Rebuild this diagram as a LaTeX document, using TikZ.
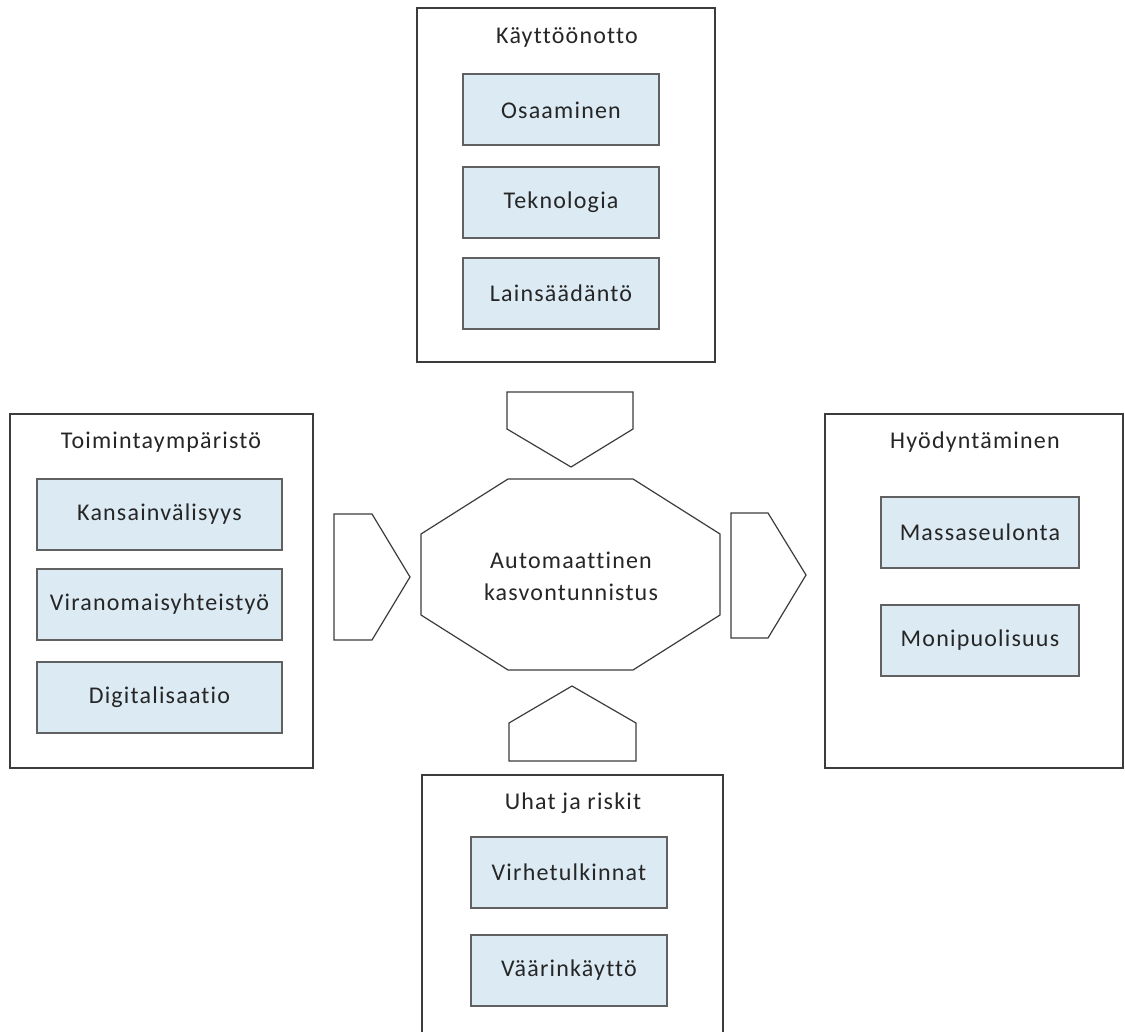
\documentclass[tikz,border=0pt]{standalone}
\usepackage{fontspec}
\setmainfont{Carlito}[LetterSpace=5,Ligatures={NoCommon}]
\definecolor{itemblue}{RGB}{219,234,243}
\definecolor{textgray}{RGB}{38,38,38}
\definecolor{linegray}{RGB}{60,60,60}
\begin{document}
\begin{tikzpicture}[x=1pt,y=-1pt,
  outer/.style={draw=linegray, line width=1.4pt, inner sep=0pt, fill=white},
  item/.style={draw=black!62, line width=2pt, fill=itemblue, inner sep=0pt,
    minimum height=71pt, font=\fontsize{24}{28}\selectfont, text=textgray},
  ttl/.style={font=\fontsize{24}{28}\selectfont, text=textgray, inner sep=0pt},
  block/.style={draw=linegray, line width=1.2pt, fill=white, line join=miter}
]
\clip (0,0) rectangle (1125,1032);
\fill[white] (0,0) rectangle (1125,1032);

% outer boxes
\node[outer, minimum width=298pt, minimum height=354pt] (topbox) at (566,185) {};
\node[outer, minimum width=303pt, minimum height=354pt] (leftbox) at (161.5,591) {};
\node[outer, minimum width=298pt, minimum height=354pt] (rightbox) at (974,591) {};
\node[outer, minimum width=301pt, minimum height=275pt] (bottombox) at (572.5,912.5) {};

% titles
\node[ttl] (t1) at (567,37) {Käyttöönotto};
\node[ttl] (t2) at (161,442) {Toimintaympäristö};
\node[ttl] (t3) at (975,442) {Hyödyntäminen};
\node[ttl] (t4) at (573,803) {Uhat ja riskit};

% items top
\node[item, minimum width=196pt] (osa) at (561,110) {Osaaminen};
\node[item, minimum width=196pt] (tek) at (561,202.5) {Teknologia};
\node[item, minimum width=196pt] (lai) at (561,293.5) {Lainsäädäntö};
% items left
\node[item, minimum width=245pt] (kan) at (159.5,514.5) {Kansainvälisyys};
\node[item, minimum width=245pt] (vir) at (159.5,604.5) {Viranomaisyhteistyö};
\node[item, minimum width=245pt] (dig) at (159.5,697.5) {Digitalisaatio};
% items right
\node[item, minimum width=198pt] (mas) at (980,532) {Massaseulonta};
\node[item, minimum width=198pt] (mon) at (980,640) {Monipuolisuus};
% items bottom
\node[item, minimum width=196pt] (vih) at (569,872.5) {Virhetulkinnat};
\node[item, minimum width=196pt] (vaa) at (569,970.5) {Väärinkäyttö};

% central octagon
\draw[block] (508,479) -- (633,479) -- (720,534) -- (720,615) -- (633,670)
  -- (508,670) -- (421,615) -- (421,534) -- cycle;
\node[ttl, align=center, font=\fontsize{24}{32}\selectfont] (core) at (571,576)
  {Automaattinen\\kasvontunnistus};

% block arrows
\draw[block] (334,514) -- (372,514) -- (410,577) -- (372,640) -- (334,640) -- cycle;
\draw[block] (507,392) -- (633,392) -- (633,429) -- (571,467) -- (507,429) -- cycle;
\draw[block] (731,513) -- (768,513) -- (806,575) -- (768,638) -- (731,638) -- cycle;
\draw[block] (572,686) -- (636,723) -- (636,761) -- (509,761) -- (509,723) -- cycle;
\end{tikzpicture}
\end{document}
